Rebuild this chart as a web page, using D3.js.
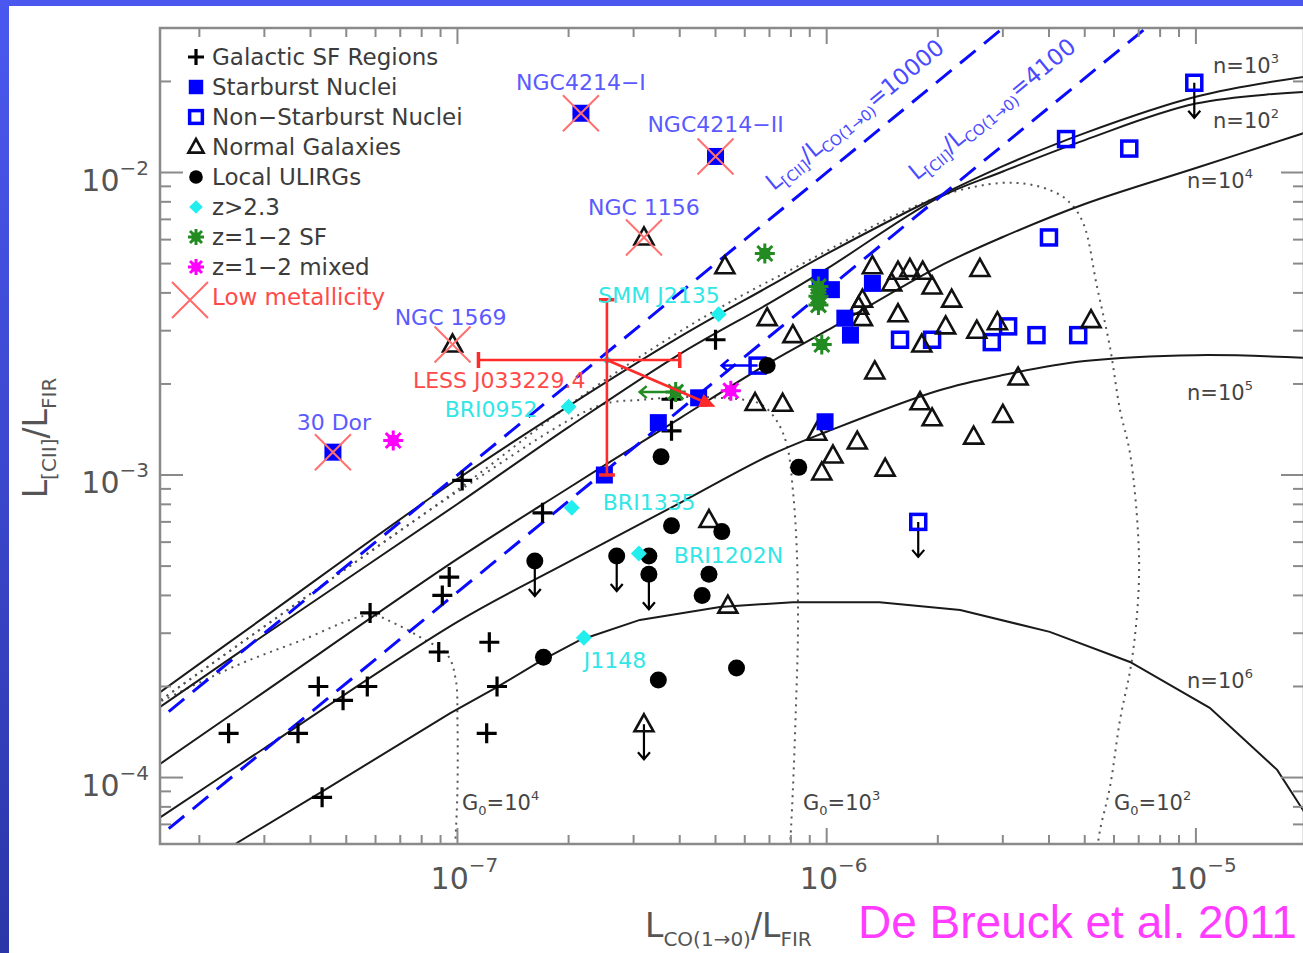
<!DOCTYPE html>
<html>
<head>
<meta charset="utf-8">
<title>[CII]/FIR versus CO/FIR</title>
<script src="https://cdn.jsdelivr.net/npm/d3@7/dist/d3.min.js"></script>
<style>
  html, body { margin: 0; padding: 0; background: #fff; }
  svg { display: block; }
  text { font-family: "DejaVu Sans", "Noto Sans", sans-serif; }
  text.citation { font-family: "Liberation Sans", Arial, sans-serif; }
</style>
</head>
<body>
<svg id="chart" width="1303" height="953"></svg>
<script>
// ---------- data: [ L_CO(1-0)/L_FIR , L_[CII]/L_FIR , optional limit flag ] ----------
const galacticSF = [
  [1.03e-7, 9.6e-4], [5.0e-7, 2.8e-3], [3.8e-7, 1.78e-3], [3.8e-7, 1.4e-3],
  [1.7e-7, 7.5e-4], [9.5e-8, 4.6e-4], [9.1e-8, 4.0e-4], [5.8e-8, 3.5e-4],
  [8.9e-8, 2.6e-4], [1.22e-7, 2.8e-4], [1.28e-7, 2.0e-4], [1.2e-7, 1.4e-4],
  [4.2e-8, 2.0e-4], [4.9e-8, 1.8e-4], [5.7e-8, 2.0e-4], [3.7e-8, 1.4e-4],
  [2.4e-8, 1.4e-4], [4.3e-8, 8.6e-5]
];
const starburstNuclei = [
  [2.16e-7, 1.57e-2], [5.0e-7, 1.13e-2], [4.6e-8, 1.19e-3], [3.5e-7, 1.49e-3],
  [2.5e-7, 1.0e-3], [4.5e-7, 1.8e-3], [9.6e-7, 4.5e-3], [1.03e-6, 4.1e-3],
  [1.12e-6, 3.3e-3], [1.16e-6, 2.9e-3], [1.33e-6, 4.3e-3], [9.9e-7, 1.5e-3]
];
const nonStarburstNuclei = [
  [9.9e-6, 1.98e-2, "down"], [4.45e-6, 1.29e-2], [6.6e-6, 1.2e-2], [4.0e-6, 6.1e-3],
  [6.5e-7, 2.3e-3, "left"], [1.58e-6, 2.8e-3], [1.93e-6, 2.8e-3], [2.8e-6, 2.75e-3],
  [3.1e-6, 3.1e-3], [3.7e-6, 2.9e-3], [4.8e-6, 2.9e-3], [1.77e-6, 7.0e-4, "down"]
];
const normalGalaxies = [
  [3.2e-7, 6.1e-3], [9.7e-8, 2.7e-3], [5.3e-7, 4.9e-3], [6.9e-7, 3.3e-3],
  [8.1e-7, 2.9e-3], [6.4e-7, 1.73e-3], [7.6e-7, 1.72e-3], [4.8e-7, 7.1e-4],
  [5.4e-7, 3.7e-4], [3.2e-7, 1.5e-4, "down"],
  [1.33e-6, 4.9e-3], [1.56e-6, 4.7e-3], [1.68e-6, 4.8e-3], [1.82e-6, 4.7e-3],
  [1.93e-6, 4.2e-3], [2.18e-6, 3.8e-3], [2.6e-6, 4.8e-3], [1.5e-6, 4.3e-3],
  [1.25e-6, 3.8e-3], [1.22e-6, 3.6e-3], [1.25e-6, 3.3e-3], [1.56e-6, 3.4e-3],
  [2.1e-6, 3.1e-3], [2.55e-6, 3.0e-3], [2.9e-6, 3.2e-3], [5.2e-6, 3.25e-3],
  [1.81e-6, 2.7e-3], [1.35e-6, 2.2e-3], [3.3e-6, 2.1e-3], [1.79e-6, 1.74e-3],
  [1.93e-6, 1.54e-3], [3.0e-6, 1.58e-3], [2.5e-6, 1.34e-3], [1.21e-6, 1.29e-3],
  [9.4e-7, 1.38e-3], [1.04e-6, 1.16e-3], [9.7e-7, 1.02e-3], [1.44e-6, 1.05e-3]
];
const localULIRGs = [
  [6.9e-7, 2.3e-3], [3.56e-7, 1.15e-3], [8.4e-7, 1.06e-3], [3.8e-7, 6.8e-4],
  [5.2e-7, 6.5e-4], [1.62e-7, 5.2e-4, "down"], [2.7e-7, 5.4e-4, "down"], [3.3e-7, 5.4e-4],
  [3.3e-7, 4.7e-4, "down"], [4.8e-7, 4.7e-4], [4.6e-7, 4.0e-4], [1.71e-7, 2.5e-4],
  [3.5e-7, 2.1e-4], [5.7e-7, 2.3e-4]
];
const highZNames = ["SMM J2135", "BRI0952", "BRI1335", "BRI1202N", "J1148"];
const highZ = [
  [5.1e-7, 3.4e-3], [2.0e-7, 1.68e-3], [2.04e-7, 7.8e-4], [3.1e-7, 5.5e-4], [2.2e-7, 2.9e-4]
];
const midZStarForming = [
  [6.8e-7, 5.4e-3], [9.5e-7, 4.2e-3], [9.5e-7, 3.9e-3], [9.5e-7, 3.65e-3],
  [9.7e-7, 2.7e-3], [3.9e-7, 1.88e-3, "left"]
];
const midZMixed = [[6.7e-8, 1.3e-3], [5.5e-7, 1.9e-3]];
const lowMetalNames = ["NGC4214\u2212I", "NGC4214\u2212II", "NGC 1156", "NGC 1569", "30 Dor"];
const lowMetallicity = [
  [2.16e-7, 1.57e-2], [5.0e-7, 1.13e-2], [3.2e-7, 6.1e-3], [9.7e-8, 2.7e-3], [4.6e-8, 1.19e-3]
];

// LESS J033229.4: point, error ranges, and the shifted estimate it points to
const lessPoint = [2.54e-7, 2.4e-3];
const lessXRange = [1.14e-7, 4.0e-7];
const lessYRange = [1.0e-3, 3.8e-3];
const lessShifted = [5.0e-7, 1.68e-3];

// constant L[CII]/L_CO(1-0) ratios
const cooRatios = [10000, 4100];

// PDR model tracks of constant density, sampled on a common CO/FIR grid
const pdrGrid = [1.5e-8, 3e-8, 1e-7, 2e-7, 4e-7, 7e-7, 1e-6, 2e-6, 3e-6, 5e-6, 1e-5, 2e-5];
const pdrN1e3 = [1.845e-4, 3.39e-4, 9.70e-4, 1.69e-3, 2.86e-3, 4.21e-3, 5.38e-3, 8.33e-3, 1.05e-2, 1.35e-2, 1.78e-2, 2.08e-2];
const pdrN1e2 = [1.65e-4, 2.96e-4, 8.02e-4, 1.44e-3, 2.51e-3, 3.70e-3, 4.80e-3, 8.23e-3, 1.008e-2, 1.28e-2, 1.69e-2, 1.85e-2];
const pdrN1e4 = [1.07e-4, 1.92e-4, 5.28e-4, 9.06e-4, 1.54e-3, 2.35e-3, 3.00e-3, 4.87e-3, 6.12e-3, 7.87e-3, 1.035e-2, 1.36e-2];
const pdrN1e5 = [7.13e-5, 1.25e-4, 3.27e-4, 5.16e-4, 8.08e-4, 1.16e-3, 1.39e-3, 1.90e-3, 2.14e-3, 2.38e-3, 2.49e-3, 2.44e-3];
const pdrN1e6 = [
  [2.0e-8, 5.10e-5], [2.5e-8, 6.03e-5], [4.32e-8, 9.02e-5], [9.54e-8, 1.63e-4],
  [1.28e-7, 1.99e-4], [1.70e-7, 2.45e-4], [2.15e-7, 2.85e-4], [3.12e-7, 3.32e-4],
  [5.14e-7, 3.66e-4], [8.1e-7, 3.80e-4], [1.39e-6, 3.80e-4], [2.30e-6, 3.58e-4],
  [4.02e-6, 3.03e-4], [6.63e-6, 2.41e-4], [1.09e-5, 1.70e-4], [1.66e-5, 1.06e-4],
  [1.95e-5, 7.81e-5], [2.24e-5, 5.76e-5]
];
// PDR model tracks of constant FUV field G0
const pdrG1e4 = [
  [1.52e-8, 1.75e-4], [2.53e-8, 2.35e-4], [3.75e-8, 2.83e-4], [5.8e-8, 3.44e-4],
  [6.8e-8, 3.22e-4], [8.0e-8, 2.89e-4], [9.4e-8, 2.54e-4], [9.9e-8, 2.10e-4],
  [1.0e-7, 1.55e-4], [1.0e-7, 9.09e-5], [9.85e-8, 5.76e-5]
];
const pdrG1e3 = [
  [1.52e-8, 1.75e-4], [3.75e-8, 3.83e-4], [1.016e-7, 8.92e-4], [2.43e-7, 1.70e-3],
  [3.12e-7, 1.77e-3], [4.08e-7, 1.81e-3], [5.14e-7, 1.80e-3], [6.6e-7, 1.72e-3],
  [7.3e-7, 1.52e-3], [7.8e-7, 1.26e-3], [8.1e-7, 8.92e-4], [8.3e-7, 5.65e-4],
  [8.36e-7, 3.07e-4], [8.25e-7, 1.67e-4], [8.1e-7, 9.09e-5], [7.95e-7, 5.76e-5]
];
const pdrG1e2 = [
  [1.52e-8, 1.75e-4], [3.75e-8, 3.83e-4], [1.016e-7, 9.06e-4], [1.9e-7, 1.62e-3],
  [3.12e-7, 2.46e-3], [5.24e-7, 3.62e-3], [9.0e-7, 5.14e-3], [1.58e-6, 7.35e-3],
  [2.2e-6, 8.62e-3], [2.95e-6, 9.23e-3], [3.49e-6, 9.16e-3], [4.02e-6, 8.75e-3],
  [4.48e-6, 8.11e-3], [4.94e-6, 6.86e-3], [5.40e-6, 4.18e-3], [5.85e-6, 2.65e-3],
  [6.23e-6, 1.64e-3], [6.63e-6, 1.18e-3], [6.97e-6, 6.43e-4], [7.0e-6, 4.26e-4],
  [6.71e-6, 2.45e-4], [6.23e-6, 1.55e-4], [5.85e-6, 9.30e-5], [5.5e-6, 6.71e-5],
  [5.40e-6, 5.76e-5]
];

const xTickExps = [-7, -6, -5];
const yTickExps = [-2, -3, -4];
const legendLabels = ["Galactic SF Regions", "Starburst Nuclei", "Non\u2212Starburst Nuclei",
  "Normal Galaxies", "Local ULIRGs", "z>2.3", "z=1\u22122 SF", "z=1\u22122 mixed", "Low metallicity"];

// ---------- layout ----------
const W = 1303, H = 953;
const PL = 160, PT = 28, PR = 1304, PB = 844;
const svg = d3.select("#chart");
const defs = svg.append("defs");

const bg = defs.append("linearGradient").attr("id", "slideBg")
  .attr("x1", 0).attr("y1", 0).attr("x2", 0).attr("y2", 1);
bg.append("stop").attr("offset", "0%").attr("stop-color", "#4b58f0");
bg.append("stop").attr("offset", "100%").attr("stop-color", "#2b36a8");
svg.append("rect").attr("width", W).attr("height", H).attr("fill", "url(#slideBg)");
svg.append("rect").attr("x", 9).attr("y", 6).attr("width", W - 9).attr("height", H - 6).attr("fill", "#fff");

defs.append("clipPath").attr("id", "plotClip").append("rect")
  .attr("x", PL).attr("y", PT).attr("width", PR - PL).attr("height", PB - PT);

const x = d3.scaleLog().domain([1.5647e-8, 1.9623e-5]).range([PL, PR]);
const y = d3.scaleLog().domain([6.030e-5, 3.004e-2]).range([PB, PT]);

// ---------- model curves ----------
const plot = svg.append("g").attr("clip-path", "url(#plotClip)");
const smooth = d3.line().x(d => x(d[0])).y(d => y(d[1])).curve(d3.curveCatmullRom.alpha(0.5));
const straight = d3.line().x(d => x(d[0])).y(d => y(d[1]));

[pdrG1e4, pdrG1e3, pdrG1e2].forEach(c => {
  plot.append("path").attr("d", smooth(c)).attr("fill", "none")
    .attr("stroke", "#555").attr("stroke-width", 2).attr("stroke-dasharray", "2,5");
});
[pdrN1e3, pdrN1e2, pdrN1e4, pdrN1e5].forEach(vals => {
  plot.append("path").attr("d", smooth(d3.zip(pdrGrid, vals))).attr("fill", "none")
    .attr("stroke", "#1a1a1a").attr("stroke-width", 2);
});
plot.append("path").attr("d", straight(pdrN1e6)).attr("fill", "none")
  .attr("stroke", "#1a1a1a").attr("stroke-width", 2);

const [xd0, xd1] = x.domain();
cooRatios.forEach(r => {
  plot.append("path").attr("d", straight([[xd0 / 2, r * xd0 / 2], [xd1, r * xd1]]))
    .attr("fill", "none").attr("stroke", "#0a0aff").attr("stroke-width", 3)
    .attr("stroke-dasharray", "20,11");
});

// ---------- frame and ticks ----------
const axisG = svg.append("g");
axisG.append("rect").attr("x", PL).attr("y", PT).attr("width", PR - PL).attr("height", PB - PT)
  .attr("fill", "none").attr("stroke", "#8a8a8a").attr("stroke-width", 2.5);
const isMajor = v => Math.abs(Math.log10(v) - Math.round(Math.log10(v))) < 1e-6;
x.ticks().forEach(v => {
  const px = x(v), len = isMajor(v) ? 16 : 9;
  if (px <= PL + 1 || px >= PR - 1) return;
  axisG.append("line").attr("x1", px).attr("x2", px).attr("y1", PB).attr("y2", PB - len)
    .attr("stroke", "#8a8a8a").attr("stroke-width", 2);
  axisG.append("line").attr("x1", px).attr("x2", px).attr("y1", PT).attr("y2", PT + len)
    .attr("stroke", "#8a8a8a").attr("stroke-width", 2);
});
y.ticks().forEach(v => {
  const py = y(v), len = isMajor(v) ? 23 : 11;
  if (py <= PT + 1 || py >= PB - 1) return;
  axisG.append("line").attr("x1", PL).attr("x2", PL + len).attr("y1", py).attr("y2", py)
    .attr("stroke", "#8a8a8a").attr("stroke-width", 2);
  axisG.append("line").attr("x1", PR).attr("x2", PR - len).attr("y1", py).attr("y2", py)
    .attr("stroke", "#8a8a8a").attr("stroke-width", 2);
});
xTickExps.forEach(e => {
  const t = axisG.append("text").attr("x", x(10 ** e) + 7).attr("y", PB + 45)
    .attr("text-anchor", "middle").attr("font-size", 30).attr("fill", "#555");
  t.append("tspan").text("10");
  t.append("tspan").attr("dy", -17).attr("font-size", 20).text("\u2212" + Math.abs(e));
});
yTickExps.forEach(e => {
  const t = axisG.append("text").attr("x", 149).attr("y", y(10 ** e) + 18)
    .attr("text-anchor", "end").attr("font-size", 30).attr("fill", "#555");
  t.append("tspan").text("10");
  t.append("tspan").attr("dy", -16).attr("font-size", 20).text("\u2212" + Math.abs(e));
});

// axis titles
const xt = svg.append("text").attr("x", 645).attr("y", 937).attr("font-size", 33).attr("fill", "#555");
xt.append("tspan").text("L");
xt.append("tspan").attr("font-size", 20).attr("dy", 9).text("CO(1\u21920)");
xt.append("tspan").attr("dy", -9).text("/L");
xt.append("tspan").attr("font-size", 20).attr("dy", 9).text("FIR");

const yt = svg.append("text").attr("transform", "translate(47,438) rotate(-90)")
  .attr("text-anchor", "middle").attr("font-size", 33).attr("fill", "#555");
yt.append("tspan").text("L");
yt.append("tspan").attr("font-size", 20).attr("dy", 9).text("[CII]");
yt.append("tspan").attr("dy", -9).text("/L");
yt.append("tspan").attr("font-size", 20).attr("dy", 9).text("FIR");

// ---------- marker shapes ----------
function plus(g, px, py, s = 1) {
  g.append("path").attr("d", `M${px - 10 * s},${py}H${px + 10 * s}M${px},${py - 10 * s}V${py + 10 * s}`)
    .attr("stroke", "#000").attr("stroke-width", 3.2).attr("fill", "none");
}
function filledSquare(g, px, py, s = 1) {
  g.append("rect").attr("x", px - 8.5 * s).attr("y", py - 8.5 * s)
    .attr("width", 17 * s).attr("height", 17 * s).attr("fill", "#0000ff");
}
function openSquare(g, px, py, s = 1) {
  g.append("rect").attr("x", px - 7.5 * s).attr("y", py - 7.5 * s)
    .attr("width", 15 * s).attr("height", 15 * s).attr("fill", "none")
    .attr("stroke", "#0000ff").attr("stroke-width", 3.5);
}
function triangle(g, px, py, s = 1) {
  g.append("path").attr("d", `M${px},${py - 10 * s}L${px + 9.5 * s},${py + 7 * s}L${px - 9.5 * s},${py + 7 * s}Z`)
    .attr("fill", "none").attr("stroke", "#111").attr("stroke-width", 2.6).attr("stroke-linejoin", "miter");
}
function circle(g, px, py, s = 1) {
  g.append("circle").attr("cx", px).attr("cy", py).attr("r", 8.5 * s).attr("fill", "#000");
}
function diamond(g, px, py, s = 1) {
  g.append("path").attr("d", `M${px},${py - 8 * s}L${px + 8 * s},${py}L${px},${py + 8 * s}L${px - 8 * s},${py}Z`)
    .attr("fill", "#22eeee");
}
function asterisk(g, px, py, color, s = 1) {
  const a = 10 * s, b = 7.5 * s;
  g.append("rect").attr("x", px - 5.5 * s).attr("y", py - 5.5 * s)
    .attr("width", 11 * s).attr("height", 11 * s).attr("fill", color);
  g.append("path")
    .attr("d", `M${px - a},${py}H${px + a}M${px},${py - a}V${py + a}M${px - b},${py - b}L${px + b},${py + b}M${px - b},${py + b}L${px + b},${py - b}`)
    .attr("stroke", color).attr("stroke-width", 3).attr("fill", "none");
}
function cross(g, px, py, r, color, w) {
  g.append("path").attr("d", `M${px - r},${py - r}L${px + r},${py + r}M${px - r},${py + r}L${px + r},${py - r}`)
    .attr("stroke", color).attr("stroke-width", w).attr("fill", "none");
}
function downArrow(g, px, py, color = "#000") {
  g.append("path").attr("d", `M${px},${py}V${py + 35}M${px - 6},${py + 28}L${px},${py + 35}L${px + 6},${py + 28}`)
    .attr("stroke", color).attr("stroke-width", 2.2).attr("fill", "none");
}
function leftArrow(g, px, py, len, color) {
  g.append("path").attr("d", `M${px},${py}H${px - len}M${px - len + 7},${py - 6}L${px - len},${py}L${px - len + 7},${py + 6}`)
    .attr("stroke", color).attr("stroke-width", 2.5).attr("fill", "none");
}
function drawLimit(g, d, color) {
  if (d[2] === "down") downArrow(g, x(d[0]), y(d[1]));
  if (d[2] === "left") leftArrow(g, x(d[0]), y(d[1]), 36, color);
}

// ---------- data markers ----------
const marks = svg.append("g");
nonStarburstNuclei.forEach(d => { drawLimit(marks, d, "#0000ff"); openSquare(marks, x(d[0]), y(d[1])); });
normalGalaxies.forEach(d => { drawLimit(marks, d); triangle(marks, x(d[0]), y(d[1])); });
localULIRGs.forEach(d => { drawLimit(marks, d); circle(marks, x(d[0]), y(d[1])); });
galacticSF.forEach(d => plus(marks, x(d[0]), y(d[1])));
starburstNuclei.forEach(d => filledSquare(marks, x(d[0]), y(d[1])));
highZ.forEach(d => diamond(marks, x(d[0]), y(d[1])));
midZStarForming.forEach(d => { drawLimit(marks, d, "#228b22"); asterisk(marks, x(d[0]), y(d[1]), "#228b22"); });
midZMixed.forEach(d => asterisk(marks, x(d[0]), y(d[1]), "#ff00ff"));
lowMetallicity.forEach(d => cross(marks, x(d[0]), y(d[1]), 18, "#ff7070", 2));

// LESS J033229.4 with its error bars and shift arrow
const lx = x(lessPoint[0]), ly = y(lessPoint[1]);
diamond(marks, lx, ly, 0.6);
const red = "#ff2a2a";
marks.append("path")
  .attr("d", `M${x(lessXRange[0])},${ly}H${x(lessXRange[1])}M${lx},${y(lessYRange[1])}V${y(lessYRange[0])}`)
  .attr("stroke", red).attr("stroke-width", 2.6).attr("fill", "none");
marks.append("path")
  .attr("d", `M${x(lessXRange[0])},${ly - 8}V${ly + 8}M${x(lessXRange[1])},${ly - 8}V${ly + 8}` +
             `M${lx - 8},${y(lessYRange[1])}H${lx + 8}M${lx - 8},${y(lessYRange[0])}H${lx + 8}`)
  .attr("stroke", red).attr("stroke-width", 3.5).attr("fill", "none");
{
  const tx = x(lessShifted[0]), ty = y(lessShifted[1]);
  const ang = Math.atan2(ty - ly, tx - lx);
  const hl = 16, hw = 7;
  const bx = tx - hl * Math.cos(ang), by = ty - hl * Math.sin(ang);
  marks.append("line").attr("x1", lx).attr("y1", ly).attr("x2", bx).attr("y2", by)
    .attr("stroke", red).attr("stroke-width", 2.6);
  marks.append("path")
    .attr("d", `M${tx},${ty}L${bx - hw * Math.sin(ang)},${by + hw * Math.cos(ang)}L${bx + hw * Math.sin(ang)},${by - hw * Math.cos(ang)}Z`)
    .attr("fill", red);
}

// ---------- annotations ----------
const ann = svg.append("g").attr("font-size", 22);
const lowMetalOffsets = [[0, -23], [0, -24], [0, -22], [-2, -20], [1, -22]];
lowMetallicity.forEach((d, i) => {
  ann.append("text").attr("x", x(d[0]) + lowMetalOffsets[i][0]).attr("y", y(d[1]) + lowMetalOffsets[i][1])
    .attr("text-anchor", "middle").attr("fill", "#5a5aff").text(lowMetalNames[i]);
});
const highZLabelPos = [["end", 1, -11], ["end", -31, 10], ["start", 31, 2], ["start", 35, 9], ["start", 0, 30]];
highZ.forEach((d, i) => {
  const p = highZLabelPos[i];
  ann.append("text").attr("x", x(d[0]) + p[1]).attr("y", y(d[1]) + p[2])
    .attr("text-anchor", p[0]).attr("fill", "#30e6e6").text(highZNames[i]);
});
ann.append("text").attr("x", lx - 194).attr("y", ly + 28).attr("fill", "#ff4a4a").text("LESS J033229.4");

// ratio line labels, set parallel to the dashed lines
const slopeAngle = Math.atan2(y(1e-3) - y(1e-4), x(1e-7) - x(1e-8)) * 180 / Math.PI;
const ratioLabelAt = [[7.75e-7, 19], [1.95e-6, 27]];
cooRatios.forEach((r, i) => {
  const [xv, off] = ratioLabelAt[i];
  const t = svg.append("text")
    .attr("transform", `translate(${x(xv)},${y(r * xv)}) rotate(${slopeAngle})`)
    .attr("y", -off).attr("font-size", 23).attr("fill", "#4a4aff");
  t.append("tspan").text("L");
  t.append("tspan").attr("font-size", 15).attr("dy", 5).text("[CII]");
  t.append("tspan").attr("dy", -5).text("/L");
  t.append("tspan").attr("font-size", 15).attr("dy", 5).text("CO(1\u21920)");
  t.append("tspan").attr("dy", -5).text("=" + r);
});

// model labels
function modelLabel(px, py, lead, sub, exp) {
  const t = svg.append("text").attr("x", px).attr("y", py).attr("font-size", 21).attr("fill", "#444");
  t.append("tspan").text(lead);
  if (sub) {
    t.append("tspan").attr("font-size", 13).attr("dy", 5).text(sub);
    t.append("tspan").attr("dy", -5).text("=10");
  } else {
    t.append("tspan").text("=10");
  }
  t.append("tspan").attr("font-size", 13).attr("dy", -10).text(exp);
}
modelLabel(1213, 73, "n", null, "3");
modelLabel(1213, 128, "n", null, "2");
modelLabel(1187, 188, "n", null, "4");
modelLabel(1187, 400, "n", null, "5");
modelLabel(1187, 688, "n", null, "6");
modelLabel(462, 810, "G", "0", "4");
modelLabel(803, 810, "G", "0", "3");
modelLabel(1114, 810, "G", "0", "2");

// ---------- legend ----------
const leg = svg.append("g");
const legendDraw = [
  (g, px, py) => plus(g, px, py, 0.8),
  (g, px, py) => filledSquare(g, px, py, 0.85),
  (g, px, py) => openSquare(g, px, py, 0.85),
  (g, px, py) => triangle(g, px, py, 0.8),
  (g, px, py) => circle(g, px, py, 0.8),
  (g, px, py) => diamond(g, px, py, 0.85),
  (g, px, py) => asterisk(g, px, py, "#228b22", 0.8),
  (g, px, py) => asterisk(g, px, py, "#ff00ff", 0.8),
  (g, px, py) => cross(g, px - 6, py + 3, 18, "#ff6a6a", 2)
];
legendLabels.forEach((lab, i) => {
  const cy = 57 + i * 30;
  legendDraw[i](leg, 196, cy);
  leg.append("text").attr("x", 212).attr("y", cy + 8).attr("font-size", 23)
    .attr("fill", i === 8 ? "#ff4a4a" : "#3c3c3c").text(lab);
});

// citation
svg.append("text").attr("class", "citation").attr("x", 858).attr("y", 938)
  .attr("font-size", 46).attr("fill", "#ff3cff").text("De Breuck et al. 2011");
</script>
</body>
</html>
